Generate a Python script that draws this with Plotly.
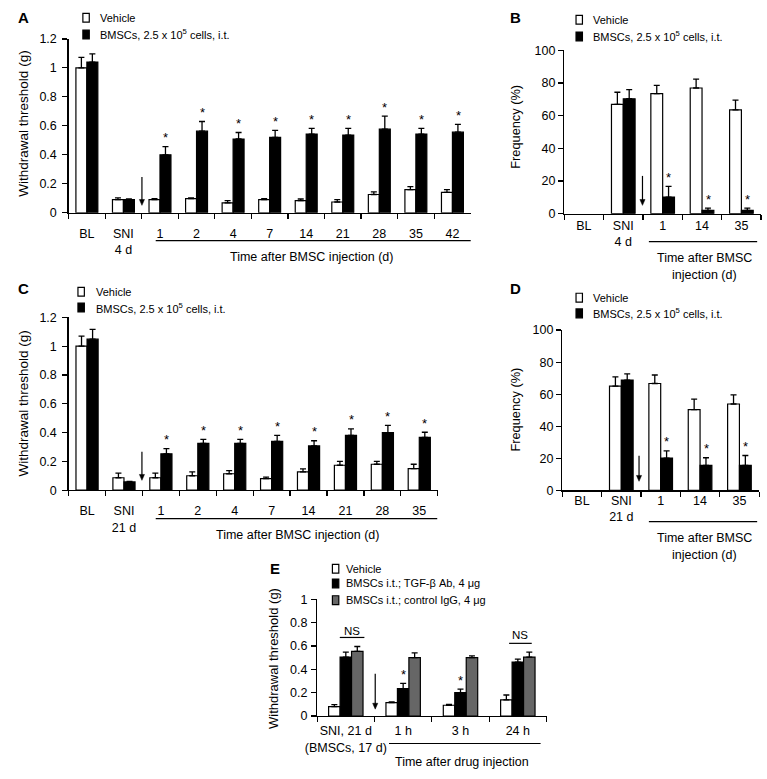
import plotly.graph_objects as go

W, H = 767, 779
FONT = "Arial, Liberation Sans, Helvetica, sans-serif"

# ---------------- data ----------------
A_cats = ["BL", "SNI<br>4 d", "1", "2", "4", "7", "14", "21", "28", "35", "42"]
A_veh = [1.0, 0.09, 0.09, 0.097, 0.068, 0.09, 0.083, 0.074, 0.126, 0.16, 0.14]
A_veh_err = [0.072, 0.012, 0.008, 0.006, 0.015, 0.008, 0.012, 0.016, 0.018, 0.02, 0.02]
A_bm = [1.04, 0.09, 0.40, 0.563, 0.509, 0.52, 0.543, 0.536, 0.577, 0.543, 0.556]
A_bm_err = [0.057, 0.005, 0.057, 0.067, 0.045, 0.048, 0.04, 0.047, 0.09, 0.04, 0.054]
A_sig = [0, 0, 1, 1, 1, 1, 1, 1, 1, 1, 1]

B_cats = ["BL", "SNI<br>4 d", "1", "14", "35"]
B_veh = [None, 66.9, 73.5, 76.9, 63.5]
B_veh_err = [None, 7.4, 5.0, 5.4, 6.0]
B_bm = [None, 70.3, 10.2, 2.0, 2.0]
B_bm_err = [None, 5.6, 6.5, 1.4, 1.4]
B_sig = [0, 0, 1, 1, 1]

C_cats = ["BL", "SNI<br>21 d", "1", "2", "4", "7", "14", "21", "28", "35"]
C_veh = [1.0, 0.086, 0.086, 0.1, 0.114, 0.08, 0.127, 0.173, 0.18, 0.15]
C_veh_err = [0.07, 0.032, 0.032, 0.027, 0.022, 0.011, 0.021, 0.027, 0.02, 0.03]
C_bm = [1.048, 0.057, 0.252, 0.325, 0.325, 0.338, 0.307, 0.38, 0.4, 0.366]
C_bm_err = [0.068, 0.004, 0.037, 0.027, 0.027, 0.042, 0.036, 0.045, 0.05, 0.036]
C_sig = [0, 0, 1, 1, 1, 1, 1, 1, 1, 1]

D_cats = ["BL", "SNI<br>21 d", "1", "14", "35"]
D_veh = [None, 65.1, 66.7, 50.4, 53.9]
D_veh_err = [None, 5.7, 5.3, 6.5, 5.7]
D_bm = [None, 68.8, 20.2, 15.7, 15.7]
D_bm_err = [None, 3.9, 4.5, 4.7, 6.1]
D_sig = [0, 0, 1, 1, 1]

E_cats = ["SNI, 21 d<br>(BMSCs, 17 d)", "1 h", "3 h", "24 h"]
E_veh = [0.081, 0.114, 0.092, 0.139]
E_veh_err = [0.016, 0.006, 0.008, 0.041]
E_tgf = [0.504, 0.234, 0.2, 0.462]
E_tgf_err = [0.042, 0.046, 0.03, 0.025]
E_igg = [0.554, 0.5, 0.5, 0.504]
E_igg_err = [0.041, 0.04, 0.014, 0.042]
E_sig = [0, 1, 1, 0]

thr_ticks = [0, 0.2, 0.4, 0.6, 0.8, 1, 1.2]
thr_ticktext = ["0", "0.2", "0.4", "0.6", "0.8", "1", "1.2"]
freq_ticks = [0, 20, 40, 60, 80, 100]
freq_ticktext = ["0", "20", "40", "60", "80", "100"]
E_ticks = [0, 0.2, 0.4, 0.6, 0.8, 1]
E_ticktext = ["0", "0.2", "0.4", "0.6", "0.8", "1"]

legend_AD = ["Vehicle", "BMSCs, 2.5 x 10<sup>5</sup> cells, i.t."]
legend_E = ["Vehicle", "BMSCs i.t.; TGF-β Ab, 4 μg", "BMSCs i.t.; control IgG, 4 μg"]

GRAY = "#666666"
BARGAP = 0.4


def px(x):
    return x / W


def py(y):
    return 1 - y / H


# panel geometry in pixels: (x0, x1, ytop, ybottom)
panels = {
    "A": dict(ax="", box=(57.5, 466, 32.5, 209.5), cats=A_cats, yr=1.2, tv=thr_ticks, tt=thr_ticktext, stand=9, ystand=3),
    "B": dict(ax="2", box=(561, 761, 44, 210.5), cats=B_cats, yr=100, tv=freq_ticks, tt=freq_ticktext, stand=0, ystand=0),
    "C": dict(ax="3", box=(57.5, 432.5, 316, 492), cats=C_cats, yr=1.2, tv=thr_ticks, tt=thr_ticktext, stand=9, ystand=3),
    "D": dict(ax="4", box=(559, 759, 329, 492.3), cats=D_cats, yr=100, tv=freq_ticks, tt=freq_ticktext, stand=-2, ystand=0),
    "E": dict(ax="5", box=(310, 543, 603, 722), cats=E_cats, yr=1.0, tv=E_ticks, tt=E_ticktext, stand=3, ystand=1),
}

fig = go.Figure()
layout = dict(
    width=W, height=H, margin=dict(l=0, r=0, t=0, b=0),
    paper_bgcolor="white", plot_bgcolor="white",
    showlegend=False, barmode="group", bargap=BARGAP, bargroupgap=0,
    font=dict(family=FONT, size=12, color="black"),
)

shapes = []
annotations = []


def add_bar(panel, cats, vals, errs, fill):
    ax = panels[panel]["ax"]
    fig.add_trace(go.Bar(
        x=cats, y=vals,
        marker=dict(color=fill, line=dict(color="black", width=1.2)),
        error_y=dict(type="data", symmetric=False, array=errs,
                     arrayminus=[0] * len(errs), color="black", thickness=1.3, width=3),
        xaxis="x" + ax, yaxis="y" + ax, hoverinfo="skip",
    ))


add_bar("A", A_cats, A_veh, A_veh_err, "white")
add_bar("A", A_cats, A_bm, A_bm_err, "black")
add_bar("B", B_cats, B_veh, B_veh_err, "white")
add_bar("B", B_cats, B_bm, B_bm_err, "black")
add_bar("C", C_cats, C_veh, C_veh_err, "white")
add_bar("C", C_cats, C_bm, C_bm_err, "black")
add_bar("D", D_cats, D_veh, D_veh_err, "white")
add_bar("D", D_cats, D_bm, D_bm_err, "black")
add_bar("E", E_cats, E_veh, E_veh_err, "white")
add_bar("E", E_cats, E_tgf, E_tgf_err, "black")
add_bar("E", E_cats, E_igg, E_igg_err, GRAY)

for name, p in panels.items():
    x0, x1, yt, yb = p["box"]
    ax = p["ax"]
    n = len(p["cats"])
    layout["xaxis" + ax] = dict(
        domain=[px(x0), px(x1)], anchor="y" + ax, type="category",
        categoryorder="array", categoryarray=p["cats"], range=[-0.5, n - 0.5],
        showline=True, linecolor="black", linewidth=1.3, ticks="outside",
        tickson="boundaries", ticklen=5, tickwidth=1.2, tickcolor="black",
        showgrid=False, zeroline=False, fixedrange=True, tickangle=0,
        tickfont=dict(size=12.5), ticklabelstandoff=p["stand"],
    )
    layout["yaxis" + ax] = dict(
        domain=[py(yb), py(yt)], anchor="x" + ax, range=[0, p["yr"]],
        showline=True, linecolor="black", linewidth=1.3, ticks="outside",
        ticklen=5, tickwidth=1.2, tickcolor="black", tickvals=p["tv"], ticktext=p["tt"],
        showgrid=False, zeroline=False, fixedrange=True, tickfont=dict(size=12.5),
        ticklabelstandoff=p["ystand"],
    )


def tops(vals, errs):
    return [None if v is None else v + (e or 0) for v, e in zip(vals, errs)]


def add_stars(panel, errs_top, sig, offset_frac):
    p = panels[panel]
    x0, x1, yt, yb = p["box"]
    catw = (x1 - x0) / len(p["cats"])
    for i, (top, s) in enumerate(zip(errs_top, sig)):
        if s and top is not None:
            annotations.append(dict(
                x=i, y=top, xref="x" + p["ax"], yref="y" + p["ax"], text="*",
                showarrow=False, yanchor="middle", xanchor="center",
                xshift=offset_frac * catw, yshift=9, font=dict(size=13)))


bw = (1 - BARGAP) / 2
add_stars("A", tops(A_bm, A_bm_err), A_sig, bw / 2)
add_stars("B", tops(B_bm, B_bm_err), B_sig, bw / 2)
add_stars("C", tops(C_bm, C_bm_err), C_sig, bw / 2)
add_stars("D", tops(D_bm, D_bm_err), D_sig, bw / 2)
add_stars("E", tops(E_tgf, E_tgf_err), E_sig, 0)


def text(x, y, s, size=12, anchor="center", bold=False, angle=0):
    annotations.append(dict(
        x=px(x), y=py(y), xref="paper", yref="paper", text=("<b>%s</b>" % s) if bold else s,
        showarrow=False, xanchor=anchor, yanchor="middle", textangle=angle,
        font=dict(size=size, family=FONT, color="black")))


def hline(x0, x1, y, w=1.2):
    shapes.append(dict(type="line", xref="paper", yref="paper", x0=px(x0), x1=px(x1),
                       y0=py(y), y1=py(y), line=dict(color="black", width=w)))


def arrow(x, ytop, ybot):
    shapes.append(dict(type="line", xref="paper", yref="paper", x0=px(x), x1=px(x),
                       y0=py(ytop), y1=py(ybot - 5), line=dict(color="black", width=1.2)))
    path = "M %f,%f L %f,%f L %f,%f Z" % (
        px(x - 2.6), py(ybot - 6), px(x + 2.6), py(ybot - 6), px(x), py(ybot))
    shapes.append(dict(type="path", xref="paper", yref="paper", path=path,
                       fillcolor="black", line=dict(color="black", width=0.5)))


def legend(x, ys, labels, fills, gap=15):
    for y, lab, f in zip(ys, labels, fills):
        shapes.append(dict(type="rect", xref="paper", yref="paper",
                           x0=px(x), x1=px(x + 6.5), y0=py(y + 4.5), y1=py(y - 4.5),
                           fillcolor=f, line=dict(color="black", width=1.2)))
        text(x + gap, y, lab, size=11, anchor="left")


# panel letters
text(4, 11, "A", 15, "left", True)
text(504, 11, "B", 15, "left", True)
text(4, 287, "C", 15, "left", True)
text(504, 287, "D", 15, "left", True)
text(260, 572, "E", 15, "left", True)

# legends
legend(72, [11, 28], legend_AD, ["white", "black"])
legend(573, [13, 30], legend_AD, ["white", "black"])
legend(67, [290, 306], legend_AD, ["white", "black"], 16)
legend(573, [296, 312], legend_AD, ["white", "black"])
legend(325.5, [572, 587, 604], legend_E, ["white", "black", GRAY], 12)

# y titles
text(12, 119, "Withdrawal threshold (g)", 13.5, angle=-90)
text(512, 122, "Frequency (%)", 12.8, angle=-90)
text(12, 404, "Withdrawal threshold (g)", 13.5, angle=-90)
text(512, 410, "Frequency (%)", 12.8, angle=-90)
text(265, 663, "Withdrawal threshold (g)", 13, angle=-90)

# underlines + x titles
hline(146, 466, 238)
text(304, 255, "Time after BMSC injection (d)", 12.5)
hline(647, 757, 239)
text(703, 256, "Time after BMSC", 12.5)
text(703, 273, "injection (d)", 12.5)
hline(146, 432, 521)
text(290, 538, "Time after BMSC injection (d)", 12.5)
hline(647, 757, 524)
text(703, 541, "Time after BMSC", 12.5)
text(703, 558, "injection (d)", 12.5)
hline(383, 537, 750)
text(457, 769, "Time after drug injection", 12.5)

# NS markers
hline(333, 358, 642)
text(345.5, 635, "NS", 11.5)
hline(505, 528, 648)
text(516.5, 640, "NS", 11.5)

# arrows
arrow(132, 173, 202)
arrow(640.5, 172, 202)
arrow(132, 453, 482)
arrow(637, 457, 483)
arrow(369, 679, 715)

layout["shapes"] = shapes
layout["annotations"] = annotations
fig.update_layout(**layout)
fig.write_html("out.html", config={"displayModeBar": False, "staticPlot": True},
               post_script="document.body.style.margin='0';")
